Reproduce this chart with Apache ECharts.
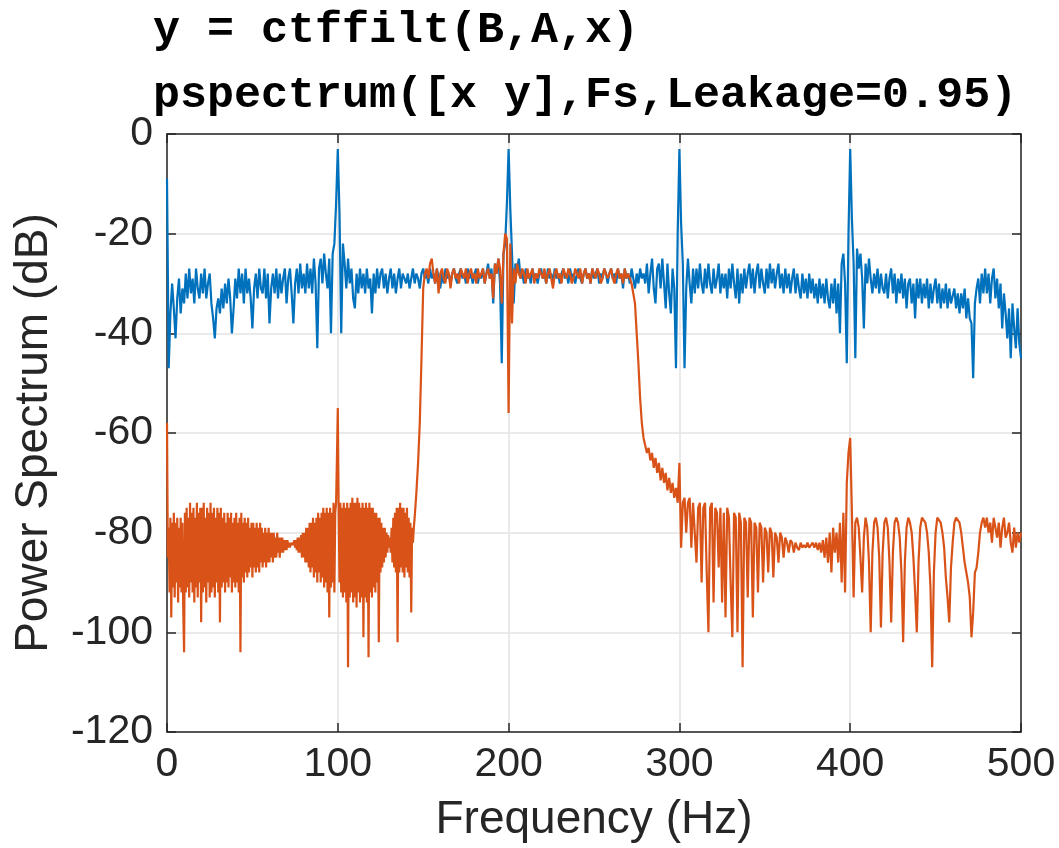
<!DOCTYPE html>
<html>
<head>
<meta charset="utf-8">
<script src="https://cdn.jsdelivr.net/npm/echarts@6/dist/echarts.min.js"></script>
<style>html,body{margin:0;padding:0;background:#fff}#c{width:1059px;height:848px}</style>
</head>
<body>
<div id="c"></div>
<script>
// Title lines
const titleLines = ['y = ctffilt(B,A,x)', 'pspectrum([x y],Fs,Leakage=0.95)'];
const xName = 'Frequency (Hz)';
const yName = 'Power Spectrum (dB)';
const xTicks = [0, 100, 200, 300, 400, 500];
const yTicks = [-120, -100, -80, -60, -40, -20, 0];

// Blue: input x, every 1 Hz from 0 to 500
const blueStartHz = 0, blueStepHz = 1;
const blueDb = [
  -9, -47, -36, -30, -35, -41, -33, -29, -36, -31, -34, -28, -33, -27, -32, -29, -34, -27, -31, -33,
  -28, -32, -27, -33, -30, -28, -34, -37, -41, -35, -33, -36, -31, -35, -30, -34, -29, -33, -40, -35,
  -29, -33, -27, -32, -28, -34, -27, -32, -29, -33, -39, -31, -28, -33, -27, -31, -32, -27, -33, -28,
  -38, -31, -28, -32, -27, -33, -28, -32, -29, -27, -34, -29, -27, -32, -38, -30, -27, -32, -26, -31,
  -28, -32, -26, -31, -27, -32, -25, -30, -43, -27, -25, -30, -24, -28, -31, -25, -40, -24, -22, -14,
  -3, -16, -40, -22, -26, -31, -25, -30, -27, -33, -35, -28, -32, -27, -31, -28, -32, -27, -31, -29,
  -36, -28, -32, -27, -31, -28, -27, -31, -28, -32, -29, -27, -31, -28, -32, -29, -27, -31, -28, -29,
  -30, -28, -31, -29, -27, -30, -28, -29, -31, -28, -27, -29, -28, -30, -27, -29, -28, -30, -27, -29,
  -31, -28, -30, -27, -29, -28, -30, -28, -27, -29, -30, -28, -27, -29, -28, -30, -27, -29, -28, -30,
  -28, -27, -30, -28, -29, -27, -30, -28, -26, -29, -27, -34, -26, -28, -25, -30, -46, -24, -22, -14,
  -3, -15, -24, -34, -26, -27, -25, -29, -28, -30, -27, -29, -28, -30, -27, -29, -28, -30, -28, -27,
  -29, -28, -30, -27, -29, -28, -30, -27, -29, -28, -30, -28, -27, -29, -28, -30, -27, -29, -28, -30,
  -28, -27, -29, -30, -28, -27, -29, -28, -30, -27, -29, -28, -27, -30, -28, -29, -27, -28, -30, -28,
  -27, -29, -28, -30, -27, -29, -28, -31, -27, -29, -28, -30, -27, -29, -31, -28, -30, -27, -29, -28,
  -30, -26, -32, -28, -25, -31, -34, -27, -26, -31, -25, -30, -35, -26, -32, -36, -27, -31, -47, -20,
  -3, -18, -26, -47, -31, -25, -30, -34, -27, -32, -27, -31, -26, -30, -32, -27, -31, -26, -30, -32,
  -27, -31, -29, -26, -32, -28, -31, -28, -33, -27, -31, -26, -30, -33, -27, -34, -28, -32, -27, -31,
  -28, -26, -31, -27, -32, -28, -26, -31, -27, -30, -32, -27, -31, -26, -30, -27, -31, -28, -26, -31,
  -28, -32, -27, -31, -28, -32, -29, -27, -32, -28, -31, -33, -28, -32, -29, -33, -28, -32, -29, -33,
  -30, -34, -29, -33, -30, -34, -29, -33, -35, -30, -34, -29, -36, -30, -40, -26, -24, -30, -46, -20,
  -3, -17, -26, -45, -23, -27, -24, -29, -39, -26, -30, -25, -29, -32, -28, -31, -27, -32, -28, -31,
  -32, -28, -33, -29, -27, -32, -28, -34, -29, -32, -28, -33, -29, -35, -30, -29, -34, -30, -37, -29,
  -33, -29, -34, -30, -33, -29, -35, -30, -34, -31, -29, -34, -30, -35, -31, -34, -30, -35, -31, -34,
  -34, -31, -35, -32, -36, -32, -35, -31, -37, -33, -37, -38, -49, -34, -31, -29, -34, -28, -32, -27,
  -32, -28, -34, -29, -27, -33, -29, -35, -30, -39, -32, -36, -41, -35, -45, -34, -39, -43, -35, -42,
  -45
];

// Orange (filtered y), stopband 0-145 Hz every 0.5 Hz
const orangeLowStartHz = 0, orangeLowStepHz = 0.5;
const orangeLowDb = [
  -58, -85, -79, -92, -77, -97, -78, -91, -76, -93, -78, -90, -77, -94, -79, -91, -77, -92, -78, -95,
  -104, -76, -92, -75, -91, -77, -93, -74, -90, -76, -92, -75, -94, -77, -91, -74, -93, -76, -90, -75,
  -98, -75, -92, -74, -91, -77, -94, -75, -90, -76, -93, -74, -92, -76, -91, -75, -93, -77, -90, -75,
  -92, -76, -98, -75, -91, -77, -90, -76, -92, -78, -90, -76, -91, -77, -89, -76, -92, -78, -90, -77,
  -91, -76, -90, -78, -92, -77, -104, -76, -89, -78, -90, -77, -88, -78, -89, -77, -88, -79, -87, -78,
  -89, -78, -87, -79, -88, -78, -87, -79, -88, -78, -86, -79, -87, -80, -86, -79, -87, -80, -86, -79,
  -86, -80, -85, -80, -86, -80, -85, -81, -85, -80, -84, -81, -85, -81, -84, -81, -84, -81.5, -83.5, -81.5,
  -83.5, -81.5, -83, -82, -83, -82, -82.5, -82, -82.5, -81.5, -83, -81.5, -83.5, -81, -84, -81, -84, -80.5, -85, -80,
  -85, -80, -86, -79, -86, -79, -87, -78, -88, -78, -87, -77, -89, -78, -88, -77, -90, -76, -88, -77,
  -90, -76, -89, -75, -91, -76, -90, -75, -92, -76, -97, -75, -91, -76, -90, -74, -92, -76, -74, -65,
  -55, -75, -90, -74, -92, -75, -93, -74, -92, -75, -94, -74, -107, -75, -93, -74, -92, -73, -94, -74,
  -93, -74, -95, -73, -92, -74, -94, -75, -93, -74, -101, -75, -93, -74, -94, -75, -105, -74, -92, -75,
  -93, -75, -91, -76, -92, -76, -90, -77, -102, -77, -88, -78, -87, -79, -86, -79, -85, -80, -84, -80.5,
  -83, -81, -84, -79, -86, -77, -87, -76, -88, -75, -102, -75, -88, -74, -87, -75, -88, -75, -89, -76,
  -87, -75, -88, -77, -89, -78, -96, -79, -82, -79,
  -77
];

// Orange (filtered y), 146-500 Hz every 1 Hz
const orangeHighStartHz = 146, orangeHighStepHz = 1;
const orangeHighDb = [
  -72, -66, -58, -45, -31, -28, -27, -29, -26, -25, -28, -30, -27, -32,
  -28, -27, -29, -30, -27, -28, -31, -28, -27, -29, -28, -30, -27, -28, -29, -27, -30, -28, -27, -29,
  -28, -30, -27, -29, -28, -27, -30, -28, -27, -29, -28, -33, -26, -28, -25, -27, -34, -24, -20, -21,
  -56, -22, -38, -27, -30, -26, -28, -29, -27, -28, -30, -27, -29, -28, -27, -30, -28, -29, -27, -28,
  -29, -27, -30, -28, -27, -29, -31, -28, -27, -29, -28, -30, -27, -28, -29, -27, -28, -30, -29, -27,
  -28, -29, -27, -30, -28, -27, -29, -28, -30, -27, -28, -29, -27, -28, -30, -29, -27, -28, -29, -28,
  -27, -29, -30, -28, -27, -29, -28, -30, -27, -29, -28, -29, -30, -32, -34, -40, -46, -53, -58, -61,
  -62.5, -64, -63, -65.5, -64, -67, -65, -68, -66, -69.5, -67, -70, -68, -71.5, -69, -72, -70, -73, -71, -74,
  -66, -83, -74, -73, -80, -74, -73, -83, -74, -74, -86, -75, -74, -90, -75, -74, -88, -100, -75, -74,
  -94, -75, -76, -87, -75, -94, -76, -97, -75, -77, -90, -101, -76, -77, -100, -76, -78, -107, -77, -78,
  -93, -77, -78, -97, -78, -79, -92, -78, -79, -90, -79, -80, -88, -79, -80, -89, -80, -81, -86, -80,
  -81, -85, -81, -82, -84, -81.5, -82, -84, -82, -83, -83.5, -82, -83, -82.5, -83, -82, -83, -82.5, -82, -83,
  -82, -83.5, -82, -84, -81.5, -85, -81, -86, -80, -88, -79, -84, -80, -86, -78, -90, -76, -92, -70, -64,
  -61, -76, -93, -78, -77, -79, -85, -92, -81, -77, -79, -86, -100, -84, -78, -77, -79, -85, -99, -84,
  -78, -77, -79, -86, -98, -84, -78, -77, -78, -81, -88, -102, -86, -79, -77, -78, -80, -85, -92, -100,
  -86, -79, -77, -77, -78, -80, -84, -91, -107, -88, -80, -77, -77, -78, -80, -83, -89, -93, -98, -87,
  -82, -78, -77, -77, -78, -80, -83, -86, -88, -90, -93, -101, -96, -88, -87, -84, -80, -78, -77, -79,
  -77, -80, -78, -82, -77, -79, -81, -78, -83, -79, -77, -81, -80, -78, -82, -84, -79, -83, -80, -82,
  -80
];

const blueData = blueDb.map((v, i) => [blueStartHz + i * blueStepHz, v]);
const orangeData = orangeLowDb.map((v, i) => [orangeLowStartHz + i * orangeLowStepHz, v])
  .concat(orangeHighDb.map((v, i) => [orangeHighStartHz + i * orangeHighStepHz, v]));

const textColor = '#262626';
const axisColor = '#262626';
const gridColor = '#e3e3e3';
const sansFont = '"Liberation Sans", Arial, Helvetica, sans-serif';
const monoFont = '"Liberation Mono", "Courier New", monospace';

const xMin = xTicks[0], xMax = xTicks[xTicks.length - 1], xInt = xTicks[1] - xTicks[0];
const yMin = yTicks[0], yMax = yTicks[yTicks.length - 1], yInt = yTicks[1] - yTicks[0];

const chart = echarts.init(document.getElementById('c'), null, {renderer: 'canvas'});
chart.setOption({
  animation: false,
  backgroundColor: '#fff',
  title: [
    {text: titleLines[0], left: 148, top: 3,
     textStyle: {fontFamily: monoFont, fontWeight: 'bold', fontSize: 45, color: '#000'}},
    {text: titleLines[1], left: 148, top: 68,
     textStyle: {fontFamily: monoFont, fontWeight: 'bold', fontSize: 45, color: '#000'}}
  ],
  grid: {left: 167, right: 38, top: 134, bottom: 115, containLabel: false, show: false},
  xAxis: [
    {type: 'value', position: 'bottom', min: xMin, max: xMax, interval: xInt,
     name: xName, nameLocation: 'middle', nameGap: 65,
     nameTextStyle: {fontFamily: sansFont, fontSize: 46, color: textColor},
     axisLine: {show: true, onZero: false, lineStyle: {color: axisColor, width: 1.5}},
     axisTick: {show: true, inside: true, length: 9, lineStyle: {color: axisColor, width: 1.5}},
     axisLabel: {show: true, margin: 12, fontFamily: sansFont, fontSize: 41, color: textColor},
     splitLine: {show: true, lineStyle: {color: gridColor, width: 1.5}}},
    {type: 'value', position: 'top', min: xMin, max: xMax, interval: xInt,
     axisLine: {show: true, onZero: false, lineStyle: {color: axisColor, width: 1.5}},
     axisTick: {show: true, inside: true, length: 9, lineStyle: {color: axisColor, width: 1.5}},
     axisLabel: {show: false}, splitLine: {show: false}}
  ],
  yAxis: [
    {type: 'value', position: 'left', min: yMin, max: yMax, interval: yInt,
     name: yName, nameLocation: 'middle', nameGap: 110, nameRotate: 90,
     nameTextStyle: {fontFamily: sansFont, fontSize: 46, color: textColor},
     axisLine: {show: true, onZero: false, lineStyle: {color: axisColor, width: 1.5}},
     axisTick: {show: true, inside: true, length: 9, lineStyle: {color: axisColor, width: 1.5}},
     axisLabel: {show: true, margin: 14, fontFamily: sansFont, fontSize: 41, color: textColor},
     splitLine: {show: true, lineStyle: {color: gridColor, width: 1.5}}},
    {type: 'value', position: 'right', min: yMin, max: yMax, interval: yInt,
     axisLine: {show: true, onZero: false, lineStyle: {color: axisColor, width: 1.5}},
     axisTick: {show: true, inside: true, length: 9, lineStyle: {color: axisColor, width: 1.5}},
     axisLabel: {show: false}, splitLine: {show: false}}
  ],
  series: [
    {name: 'x', type: 'line', xAxisIndex: 0, yAxisIndex: 0, data: blueData,
     showSymbol: false, symbol: 'none', sampling: null,
     lineStyle: {color: '#0072BD', width: 2.2}, itemStyle: {color: '#0072BD'}, z: 2},
    {name: 'y', type: 'line', xAxisIndex: 0, yAxisIndex: 0, data: orangeData,
     showSymbol: false, symbol: 'none', sampling: null,
     lineStyle: {color: '#D95319', width: 2.2}, itemStyle: {color: '#D95319'}, z: 3}
  ]
});
</script>
</body>
</html>
